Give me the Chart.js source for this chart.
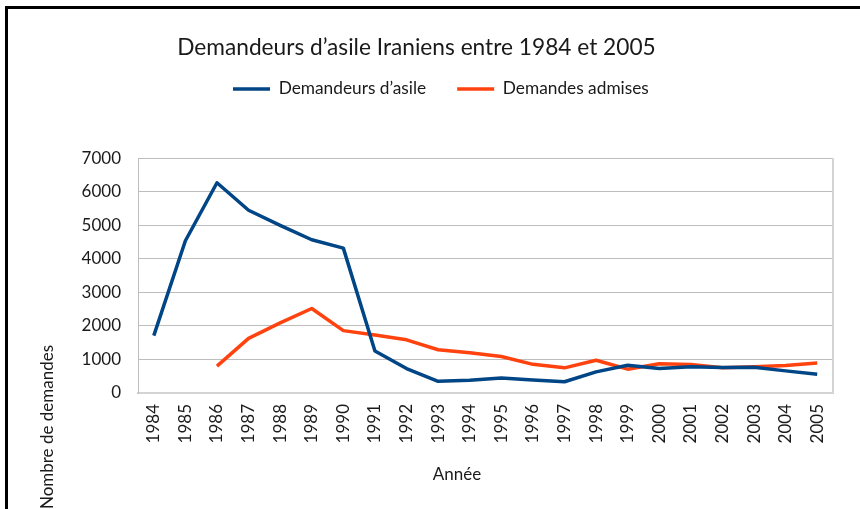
<!DOCTYPE html>
<html>
<head>
<meta charset="utf-8">
<script src="https://cdn.jsdelivr.net/npm/chart.js@4"></script>
<style>
  html, body { margin: 0; padding: 0; background: #fff; }
  #wrap { position: relative; width: 860px; height: 509px; overflow: hidden; }
  #frame { position: absolute; left: 5px; top: 6px; width: 1000px; height: 1000px;
           border-left: 3px solid #000; border-top: 3px solid #000; }
  #chart { position: absolute; left: 0; top: 0; }
</style>
</head>
<body>
<div id="wrap">
  <div id="frame"></div>
  <canvas id="chart" width="860" height="509"></canvas>
</div>
<script>
const years = ["1984", "1985", "1986", "1987", "1988", "1989", "1990", "1991", "1992", "1993", "1994",
  "1995", "1996", "1997", "1998", "1999", "2000", "2001", "2002", "2003", "2004", "2005"];
const demandeurs = [1710, 4540, 6270, 5450, 5000, 4570, 4320, 1250, 730, 350, 380,
  450, 390, 335, 630, 830, 730, 780, 760, 770, 660, 560];
const admises = [null, null, 800, 1630, 2090, 2520, 1860, 1730, 1585, 1290, 1200,
  1090, 855, 750, 975, 710, 875, 850, 750, 780, 820, 895];
const yMin = 0;
const yMax = 7000;
const yStep = 1000;

const textColor = "#1a1a1a";
const font = { family: "Lato", size: 17 };

// legend sits further right than chart.js would center it
const legendShift = {
  id: "legendShift",
  afterLayout(chart) {
    const lg = chart.legend;
    lg.left = 233 - lg.options.labels.padding;
    lg.right = 860;
  },
};

// right edge of the plot frame + the two axis titles
const extras = {
  id: "extras",
  beforeDatasetsDraw(chart) {
    const { ctx, chartArea: a } = chart;
    ctx.save();
    ctx.strokeStyle = "#d4d4d4";
    ctx.lineWidth = 2;
    ctx.beginPath();
    ctx.moveTo(a.right, a.top);
    ctx.lineTo(a.right, a.bottom);
    ctx.stroke();
    ctx.restore();
  },
  afterDraw(chart) {
    const { ctx } = chart;
    ctx.save();
    ctx.fillStyle = textColor;
    ctx.font = "17px Lato";
    ctx.textAlign = "center";
    ctx.textBaseline = "middle";
    ctx.fillText("Année", 457, 475);
    ctx.translate(47.5, 427);
    ctx.rotate(-Math.PI / 2);
    ctx.fillText("Nombre de demandes", 0, 0);
    ctx.restore();
  },
};

new Chart(document.getElementById("chart"), {
  type: "line",
  data: {
    labels: years,
    datasets: [
      {
        label: "Demandeurs d’asile",
        data: demandeurs,
        borderColor: "#004586",
        backgroundColor: "#004586",
        borderWidth: 3.5,
        pointRadius: 0,
        tension: 0,
        borderJoinStyle: "round",
      },
      {
        label: "Demandes admises",
        data: admises,
        borderColor: "#ff420e",
        backgroundColor: "#ff420e",
        borderWidth: 3.5,
        pointRadius: 0,
        tension: 0,
        borderJoinStyle: "round",
      },
    ],
  },
  options: {
    responsive: false,
    animation: false,
    layout: { padding: { left: 0, right: 27, top: 0, bottom: 0 } },
    plugins: {
      title: {
        display: true,
        text: "Demandeurs d’asile Iraniens entre 1984 et 2005",
        color: textColor,
        font: { family: "Lato", size: 22.7, weight: "normal" },
        padding: { top: 34, bottom: -12 },
      },
      legend: {
        align: "start",
        labels: {
          usePointStyle: true,
          pointStyle: "line",
          pointStyleWidth: 37,
          padding: 31,
          color: textColor,
          font: { family: "Lato", size: 17.3 },
        },
      },
      tooltip: { enabled: false },
    },
    scales: {
      x: {
        offset: true,
        grid: { display: false, drawTicks: false },
        border: { color: "#d4d4d4", width: 2 },
        ticks: {
          autoSkip: false,
          minRotation: 90,
          maxRotation: 90,
          padding: 11,
          color: textColor,
          font: font,
        },
        afterFit(scale) {
          scale.height = 116;
        },
      },
      y: {
        min: yMin,
        max: yMax,
        grid: { color: "#bdbdbd", drawTicks: false },
        border: { color: "#bdbdbd" },
        ticks: {
          stepSize: yStep,
          padding: 17,
          color: textColor,
          font: font,
          callback: (v) => String(v),
        },
        afterFit(scale) {
          scale.width = 138;
        },
      },
    },
  },
  plugins: [
    legendShift,
    extras,
    {
      id: "legendHeight",
      beforeInit(chart) {
        const fit = chart.legend.fit;
        chart.legend.fit = function () {
          fit.call(this);
          this.height = 109;
        };
      },
    },
  ],
});
</script>
</body>
</html>
